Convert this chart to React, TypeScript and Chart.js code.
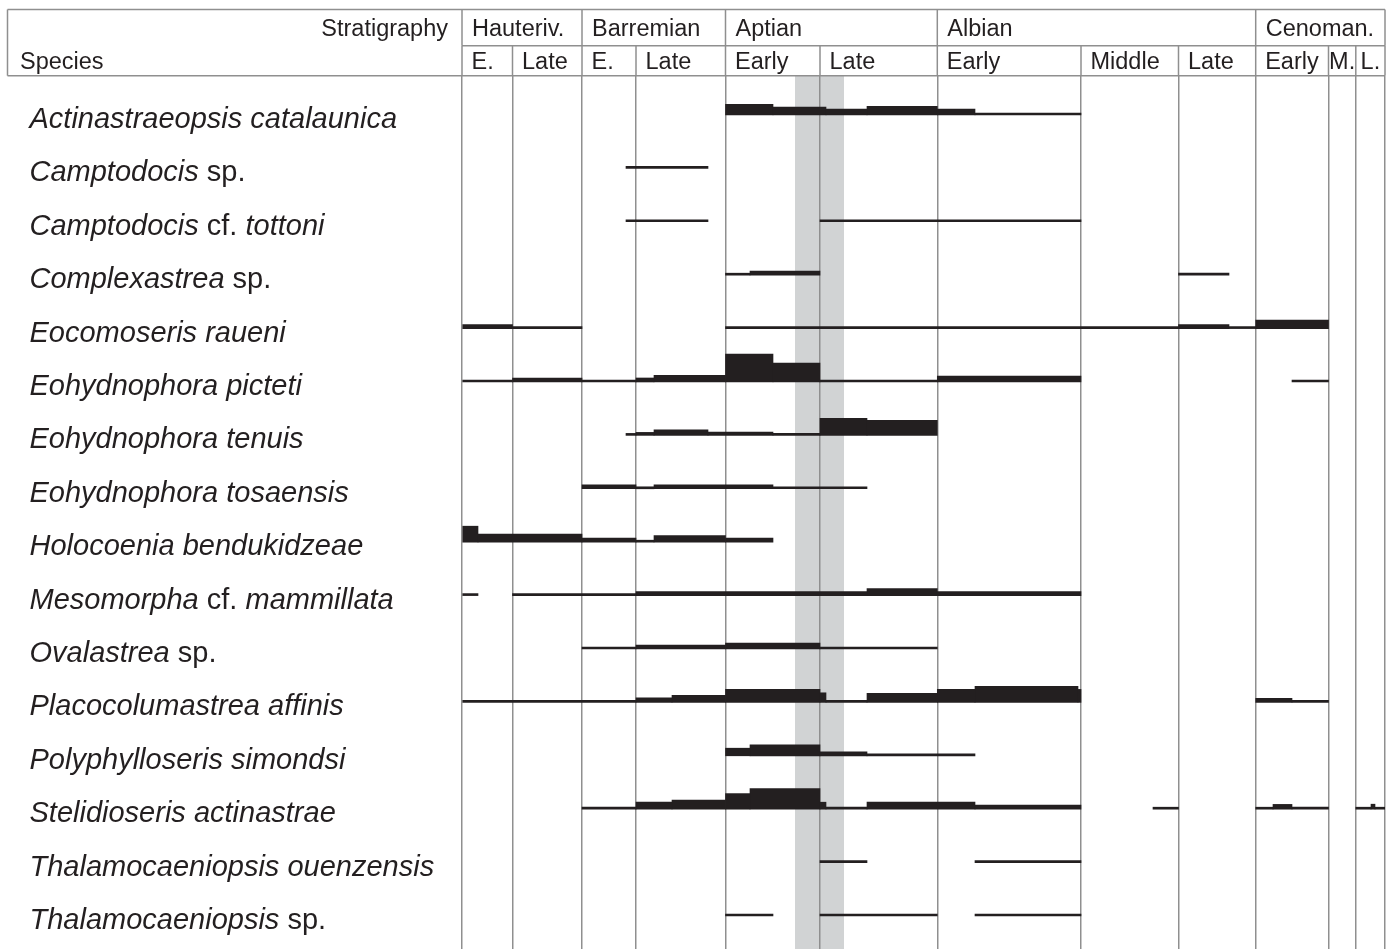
import { useEffect, useRef } from 'react';
import { Chart, registerables } from 'chart.js';

Chart.register(...registerables);

// ---------- data ----------
const SPECIES = [
  'Actinastraeopsis catalaunica',
  'Camptodocis sp.',
  'Camptodocis cf. tottoni',
  'Complexastrea sp.',
  'Eocomoseris raueni',
  'Eohydnophora picteti',
  'Eohydnophora tenuis',
  'Eohydnophora tosaensis',
  'Holocoenia bendukidzeae',
  'Mesomorpha cf. mammillata',
  'Ovalastrea sp.',
  'Placocolumastrea affinis',
  'Polyphylloseris simondsi',
  'Stelidioseris actinastrae',
  'Thalamocaeniopsis ouenzensis',
  'Thalamocaeniopsis sp.',
];

const STAGES = ['Hauteriv.', 'Barremian', 'Aptian', 'Albian', 'Cenoman.'];
const STAGE_EDGES = [0, 2, 4, 6, 9, 12]; // indices into BOUNDARIES
const SUBSTAGES = ['E.', 'Late', 'E.', 'Late', 'Early', 'Late', 'Early', 'Middle', 'Late', 'Early', 'M.', 'L.'];
// substage boundaries on the (relative) time axis
const BOUNDARIES = [0, 50.5, 120, 174, 263.5, 358, 475.3, 619, 716.5, 793.7, 866.5, 893.8, 923];
// shaded interval
const BAND = [333, 382];

// ranges per species: [start, end, relative abundance]
const RANGES: number[][][] = [
  [[263.5, 311, 5.3], [311, 364, 4], [364, 405, 3], [405, 475.3, 4.3], [475.3, 513, 3], [513, 619, 1]],
  [[164, 246, 1]],
  [[164, 246, 1], [358, 619, 1]],
  [[263.5, 288, 1], [288, 358, 2], [716.5, 767, 1]],
  [[0, 50.5, 2], [50.5, 120, 1], [263.5, 716.5, 1], [716.5, 767, 2], [767, 793.7, 1], [793.7, 866.5, 4.3]],
  [[0, 50.5, 1], [50.5, 120, 2], [120, 174, 1], [174, 192, 2], [192, 263.5, 3.3], [263.5, 311, 14], [311, 358, 9.5], [358, 475.3, 1], [475.3, 619, 3], [830, 866.5, 1]],
  [[164, 174, 1], [174, 192, 1.5], [192, 246, 2.8], [246, 311, 1.7], [311, 358, 1], [358, 405, 8.5], [405, 475.3, 7.5]],
  [[120, 174, 2], [174, 192, 1], [192, 311, 2], [311, 405, 1]],
  [[0, 16, 8], [16, 120, 4], [120, 174, 2], [174, 192, 1], [192, 263.5, 3.3], [263.5, 311, 2]],
  [[0, 16, 1], [50.5, 174, 1], [174, 405, 2], [405, 475.3, 3.5], [475.3, 619, 2]],
  [[120, 174, 1], [174, 263.5, 2], [263.5, 358, 3], [358, 475.3, 1]],
  [[0, 174, 1], [174, 210, 2.3], [210, 263.5, 3.5], [263.5, 358, 6.5], [358, 364, 4.8], [364, 405, 1], [405, 475.3, 4.5], [475.3, 513, 6.5], [513, 616, 8], [616, 619, 6.5], [793.7, 830, 2], [830, 866.5, 1]],
  [[263.5, 288, 3.8], [288, 358, 5.5], [358, 405, 2], [405, 513, 1]],
  [[120, 174, 1], [174, 210, 3.5], [210, 263.5, 4.5], [263.5, 288, 7.8], [288, 358, 10.3], [358, 364, 3.5], [364, 405, 1], [405, 513, 3.5], [513, 619, 2], [691, 716.5, 1], [793.7, 811, 1], [811, 830, 2.4], [830, 866.5, 1], [893.8, 909, 1], [909, 913, 2.5], [913, 923, 1]],
  [[358, 405, 1], [513, 619, 1]],
  [[263.5, 311, 1], [358, 475.3, 1], [513, 619, 1]],
];

// ---------- style / layout ----------
const INK = '#231f20';
const GRID = '#8f8f8f';
const BAND_COLOR = '#d1d3d4';
const FONT = '"Liberation Sans", Arial, sans-serif';
const HEADER_SIZE = 23.5;
const LABEL_SIZE = 29;
const ABUND_PX = 2; // pixels of bar thickness per abundance unit
const W = 1394;
const H = 949;
const AREA_TOP = 76;
const Y_MIN = -0.73;
const Y_MAX = 15.618;
const ROW_PX = (H - AREA_TOP) / (Y_MAX - Y_MIN);

const levels = Array.from(new Set(RANGES.flat().map((r) => r[2]))).sort((a, b) => a - b);
const datasets = levels.map((a) => ({
  label: 'abundance ' + a,
  data: RANGES.flatMap((segs, i) =>
    segs
      .filter((s) => s[2] === a)
      .map((s) => ({ x: [s[0], s[1]], y: i - (a * ABUND_PX) / 2 / ROW_PX }))
  ),
  barThickness: a * ABUND_PX,
  backgroundColor: INK,
  borderWidth: 0,
  borderSkipped: false,
  stack: 'all',
  grouped: true,
}));

const bandPlugin = {
  id: 'band',
  beforeDraw(chart: any) {
    const { ctx, chartArea } = chart;
    const xs = chart.scales.x;
    const x0 = xs.getPixelForValue(BAND[0]);
    const x1 = xs.getPixelForValue(BAND[1]);
    ctx.save();
    ctx.fillStyle = BAND_COLOR;
    ctx.fillRect(x0, chartArea.top, x1 - x0, chartArea.bottom - chartArea.top);
    ctx.restore();
  },
};

const headerPlugin = {
  id: 'header',
  afterDraw(chart: any) {
    const { ctx, chartArea } = chart;
    const xs = chart.scales.x;
    const ys = chart.scales.y;
    const px = (v: number) => xs.getPixelForValue(v);
    const left = 7.5;
    const top = 9.5;
    const mid = 45.7;
    const bot = chartArea.top - 0.3;
    const x0 = px(BOUNDARIES[0]);
    const right = px(BOUNDARIES[BOUNDARIES.length - 1]);

    ctx.save();
    ctx.strokeStyle = GRID;
    ctx.lineWidth = 1.5;
    const line = (a: number, b: number, c: number, d: number) => {
      ctx.beginPath();
      ctx.moveTo(a, b);
      ctx.lineTo(c, d);
      ctx.stroke();
    };
    line(left, top, right, top);
    line(x0, mid, right, mid);
    line(left, bot, right, bot);
    line(left, top, left, bot);
    STAGE_EDGES.forEach((idx) => line(px(BOUNDARIES[idx]), top, px(BOUNDARIES[idx]), mid));
    BOUNDARIES.forEach((b) => line(px(b), mid, px(b), bot));

    ctx.fillStyle = INK;
    ctx.textBaseline = 'middle';
    ctx.font = `${HEADER_SIZE}px ${FONT}`;
    const r1 = (top + mid) / 2 + 2;
    const r2 = (mid + bot) / 2 + 2;
    ctx.textAlign = 'right';
    ctx.fillText('Stratigraphy', x0 - 14, r1);
    ctx.textAlign = 'left';
    ctx.fillText('Species', 20, r2);
    STAGES.forEach((s, k) => {
      ctx.fillText(s, px(BOUNDARIES[STAGE_EDGES[k]]) + 10, r1);
    });
    SUBSTAGES.forEach((s, k) => {
      const a = px(BOUNDARIES[k]);
      const b = px(BOUNDARIES[k + 1]);
      const w = ctx.measureText(s).width;
      const xText = w + 18 > b - a ? a + (b - a - w) / 2 : a + 9.5;
      ctx.fillText(s, xText, r2);
    });

    // species labels
    ctx.textBaseline = 'alphabetic';
    SPECIES.forEach((name, i) => {
      const y = ys.getPixelForValue(i) + 13;
      let x = 29.5;
      const words = name.split(' ');
      words.forEach((wd, j) => {
        const regular = wd === 'sp.' || wd === 'cf.';
        ctx.font = `${regular ? '' : 'italic '}${LABEL_SIZE}px ${FONT}`;
        const txt = j < words.length - 1 ? wd + ' ' : wd;
        ctx.fillText(txt, x, y);
        x += ctx.measureText(txt).width;
      });
    });
    ctx.restore();
  },
};

export default function App() {
  const ref = useRef<HTMLCanvasElement>(null);
  useEffect(() => {
    const canvas = ref.current;
    if (!canvas) return;
    const chart = new Chart(canvas, {
      type: 'bar',
      data: { datasets: datasets as any },
      options: {
        indexAxis: 'y',
        animation: false,
        responsive: false,
        events: [],
        layout: { padding: { left: 462, right: W - 1385, top: AREA_TOP, bottom: 0 } },
        plugins: { legend: { display: false }, tooltip: { enabled: false } },
        scales: {
          x: {
            type: 'linear',
            min: BOUNDARIES[0],
            max: BOUNDARIES[BOUNDARIES.length - 1],
            stacked: false,
            offset: false,
            grid: { color: GRID, lineWidth: 1.5, drawTicks: false, offset: false },
            border: { display: false },
            ticks: { display: false },
            afterBuildTicks: (s: any) => {
              s.ticks = BOUNDARIES.map((v) => ({ value: v }));
            },
          },
          y: {
            type: 'linear',
            min: Y_MIN,
            max: Y_MAX,
            reverse: true,
            stacked: true,
            offset: false,
            grid: { offset: false },
            display: false,
          },
        },
      } as any,
      plugins: [bandPlugin, headerPlugin],
    });
    return () => chart.destroy();
  }, []);
  return (
    <div style={{ position: 'fixed', left: 0, top: 0, width: W, height: H, background: '#fff' }}>
      <canvas ref={ref} width={W} height={H} style={{ display: 'block' }} />
    </div>
  );
}
